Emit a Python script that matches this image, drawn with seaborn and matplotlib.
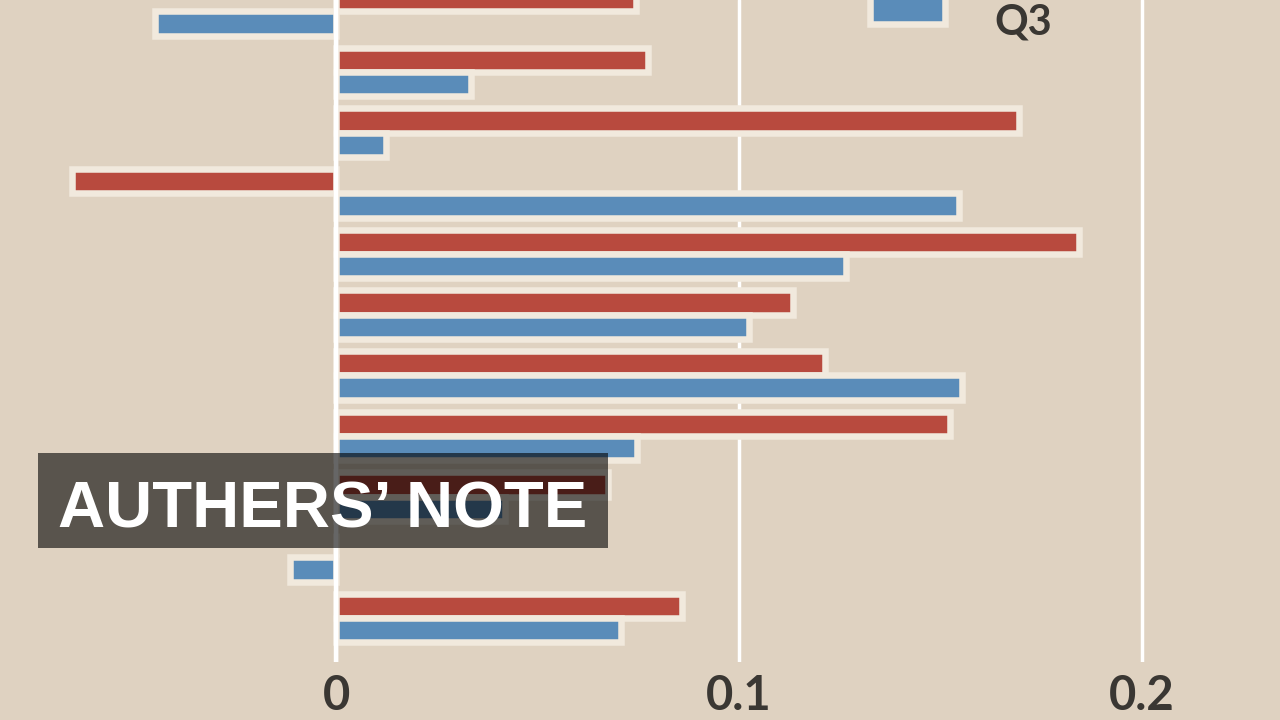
import numpy as np
import pandas as pd
import matplotlib
matplotlib.use("Agg")
import matplotlib.pyplot as plt
from matplotlib.patches import Rectangle
import seaborn as sns

# values, top row first
rows = ["r1", "r2", "r3", "r4", "r5", "r6", "r7", "r8", "r9", "r10", "r11"]
q2 = [0.0745, 0.0775, 0.1695, -0.0655, 0.1844, 0.1134, 0.1213, 0.1524, 0.0675, 0.0, 0.0859]
q3 = [-0.045, 0.0335, 0.0124, 0.1546, 0.1266, 0.1025, 0.1553, 0.0747, 0.042, -0.0114, 0.0707]
series = ["Q2", "Q3"]
ticks = [0, 0.1, 0.2]
tick_labels = ["0", "0.1", "0.2"]

BG = "#dfd2c1"
RED = "#b84a3e"
BLUE = "#5a8cb9"
HALO = "#f1e9dd"
INK = "#3a3733"

df = pd.DataFrame({
    "row": rows * 2,
    "value": q2 + q3,
    "quarter": [series[0]] * len(rows) + [series[1]] * len(rows),
})

sns.set_style("white", {"axes.facecolor": BG, "figure.facecolor": BG})
plt.rcParams["font.family"] = ["Lato", "DejaVu Sans"]

fig = plt.figure(figsize=(12.8, 7.2), dpi=100)
ax = fig.add_axes([0, 58 / 720, 1, 662 / 720])

sns.barplot(data=df, y="row", x="value", hue="quarter", order=rows,
            hue_order=series, palette=[RED, BLUE], saturation=1, orient="h",
            width=0.8, gap=0.0, edgecolor=HALO, linewidth=4.7,
            errorbar=None, legend=False, ax=ax)

ax.set_xlim(-336 / 4030, (1280 - 336) / 4030)
ax.set_ylim(10.726, -0.186)
ax.set_axisbelow(True)
ax.grid(axis="x", color="white", linewidth=2.5)
ax.grid(axis="y", visible=False)
ax.axvline(0, color="white", linewidth=3.2, zorder=5)

ax.set_xticks(ticks)
ax.set_xticklabels(tick_labels, fontsize=34, fontweight="bold", color=INK)
ax.tick_params(axis="x", length=0, pad=9)
ax.set_yticks([])
ax.set_xlabel("")
ax.set_ylabel("")
for s in ax.spines.values():
    s.set_visible(False)

# legend key (only the Q3 entry falls inside the frame)
fig.add_artist(Rectangle((870 / 1280, 1 - 24 / 720), 75 / 1280, 75 / 720,
                         transform=fig.transFigure, facecolor=BLUE,
                         edgecolor=HALO, linewidth=4.7))
fig.text(994 / 1280, 1 - 34 / 720, series[1], ha="left", va="baseline",
         fontsize=30, fontweight="bold", color=INK)

# overlay banner
fig.add_artist(Rectangle((38 / 1280, 1 - 548 / 720), 570 / 1280, 95 / 720,
                         transform=fig.transFigure, facecolor="black",
                         alpha=0.6, linewidth=0, zorder=10))
fig.text(58 / 1280, 1 - 527 / 720, "AUTHERS\u2019 NOTE", ha="left", va="baseline",
         fontsize=47, fontweight="bold", color="white",
         family=["Liberation Sans", "DejaVu Sans"], zorder=11)

fig.savefig("out.png", dpi=100, facecolor=BG)
